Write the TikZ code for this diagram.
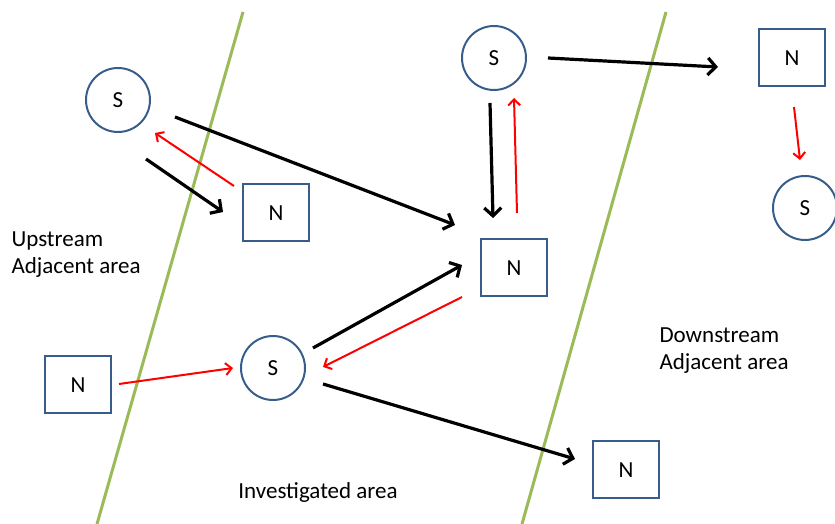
\documentclass[tikz,border=0pt]{standalone}
\usepackage{fontspec}
\setmainfont{Carlito}
\usepackage{xcolor}
\usepackage{tikz}
\usetikzlibrary{arrows.meta}

\definecolor{boxblue}{RGB}{56,93,138}
\definecolor{zonegreen}{RGB}{155,187,89}

\begin{document}
\begin{tikzpicture}[x=1pt,y=1pt,font=\fontsize{23}{27}\selectfont,
  sta/.style={circle,draw=boxblue,line width=2pt,minimum size=64pt,inner sep=0pt},
  nod/.style={rectangle,draw=boxblue,line width=2pt,minimum width=66pt,minimum height=57pt,inner sep=0pt},
  blk/.style={black,line width=3.2pt,-{Straight Barb[length=8pt,width=17pt,line width=3.2pt]}},
  rd/.style={red,line width=2pt,-{Straight Barb[length=6pt,width=12pt,line width=2pt]}},
  zone/.style={zonegreen,line width=3pt}]
\useasboundingbox (0,0) rectangle (835,524);
% area borders
\draw[zone] (243,512) -- (97,0);
\draw[zone] (666,512) -- (522,0);
% stations and nodes
\node[sta] (s1) at (118,424) {S};
\node[nod] (n1) at (276,311) {N};
\node[sta] (s2) at (494,466) {S};
\node[nod] (n2) at (792,466) {N};
\node[sta] (s3) at (805,316) {S};
\node[nod] (nc) at (514,256) {N};
\node[sta] (sb) at (273,156) {S};
\node[nod] (nl) at (78,139) {N};
\node[nod] (nb) at (626,54) {N};
% area names
\node[align=left,anchor=west] (up) at (8,269) {Upstream\\Adjacent area};
\node[align=left,anchor=west] (down) at (656,173) {Downstream\\Adjacent area};
\node (inv) at (318,32) {Investigated area};
% flows
\draw[blk] ([shift={(57,-17)}]s1.center) -- ([shift={(-59,43)}]nc.center);
\draw[blk] ([shift={(28,-59)}]s1.center) -- ([shift={(-53,1)}]n1.center);
\draw[rd] ([shift={(-42,27)}]n1.center) -- ([shift={(37,-33)}]s1.center);
\draw[blk] ([shift={(54,0)}]s2.center) -- ([shift={(-74,-9)}]n2.center);
\draw[blk] ([shift={(-4,-45)}]s2.center) -- ([shift={(-21,50)}]nc.center);
\draw[rd] ([shift={(3,55)}]nc.center) -- ([shift={(20,-40)}]s2.center);
\draw[rd] ([shift={(2,-49)}]n2.center) -- ([shift={(-5,48)}]s3.center);
\draw[blk] ([shift={(40,20)}]sb.center) -- ([shift={(-52,3)}]nc.center);
\draw[rd] ([shift={(-52,-29)}]nc.center) -- ([shift={(50,1)}]sb.center);
\draw[rd] ([shift={(41,1)}]nl.center) -- ([shift={(-40,0)}]sb.center);
\draw[blk] ([shift={(50,-16)}]sb.center) -- ([shift={(-51,11)}]nb.center);
\end{tikzpicture}
\end{document}
